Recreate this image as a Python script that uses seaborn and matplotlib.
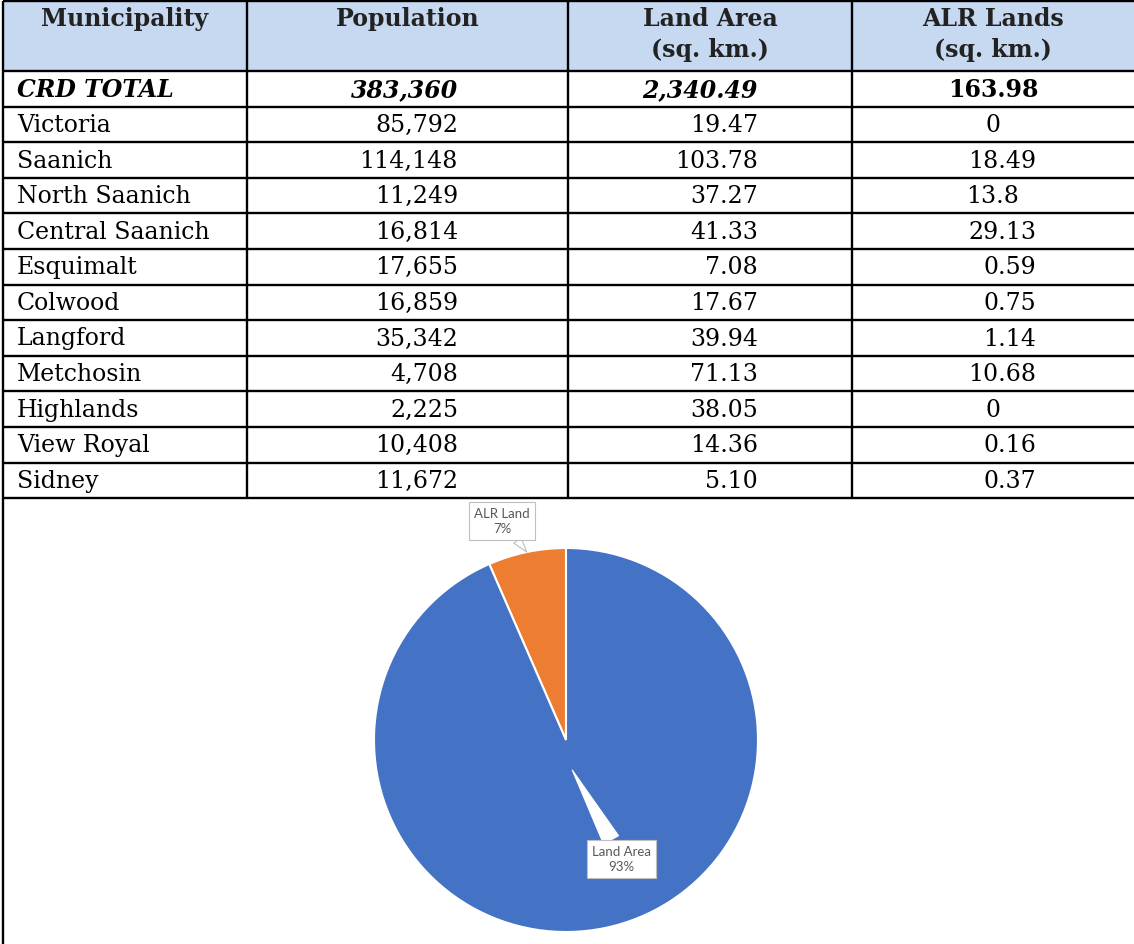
import numpy as np
import matplotlib
matplotlib.use("Agg")
import matplotlib.pyplot as plt
import seaborn as sns

sns.set_style("white")
plt.rcParams["font.family"] = ["DejaVu Serif"]
plt.rcParams["text.color"] = "black"

# table data
municipalities = ["Victoria", "Saanich", "North Saanich", "Central Saanich", "Esquimalt",
                  "Colwood", "Langford", "Metchosin", "Highlands", "View Royal", "Sidney"]
population = [85792, 114148, 11249, 16814, 17655, 16859, 35342, 4708, 2225, 10408, 11672]
land_area = [19.47, 103.78, 37.27, 41.33, 7.08, 17.67, 39.94, 71.13, 38.05, 14.36, 5.10]
alr_lands = [0, 18.49, 13.8, 29.13, 0.59, 0.75, 1.14, 10.68, 0, 0.16, 0.37]
total_label = "CRD TOTAL"
total_population = 383360
total_land = 2340.49
total_alr = 163.98
headers = ["Municipality", "Population", "Land Area\n(sq. km.)", "ALR Lands\n(sq. km.)"]

# pie data
pie_labels = ["ALR Land", "Land Area"]
pie_values = [total_alr, total_land]
pie_colors = ["#ED7D31", "#4472C4"]

W, H = 1134, 944
fig = plt.figure(figsize=(W / 100, H / 100), dpi=100)
ax = fig.add_axes([0, 0, 1, 1])
ax.set_xlim(0, W)
ax.set_ylim(H, 0)
ax.axis("off")

col_x = [3, 247, 568, 852, W + 5]
top, head_bot, row_h = 1, 71, 35.6
n_rows = len(municipalities) + 1
table_bot = head_bot + n_rows * row_h
fs = 17
lw = 1.7

ax.add_patch(plt.Rectangle((col_x[0], top), col_x[-1] - col_x[0], head_bot - top,
                           facecolor="#C6D9F1", edgecolor="none", zorder=0))
ys = [top, head_bot] + [head_bot + (i + 1) * row_h for i in range(n_rows)]
ax.hlines(ys, col_x[0], col_x[-1], color="black", lw=lw)
ax.vlines(col_x[1:4], top, table_bot, color="black", lw=lw)
ax.vlines(col_x[0], top, H + 5, color="black", lw=lw)

# header
for j, h in enumerate(headers):
    cx = (col_x[j] + col_x[j + 1]) / 2 if j < 3 else 993
    for k, line in enumerate(h.split("\n")):
        ax.text(cx, 19 + 31 * k, line, ha="center", va="center", fontsize=fs,
                fontweight="bold", color="#222222")

pop_right, land_right, alr_right, alr_center = 458, 758, 1036, 993


def alr_text(y, v, **kw):
    s = f"{v:g}"
    if "." in s and len(s.split(".")[1]) == 2:
        ax.text(alr_right, y, s, ha="right", va="center", fontsize=fs, **kw)
    else:
        ax.text(alr_center, y, s, ha="center", va="center", fontsize=fs, **kw)


y0 = head_bot + row_h / 2 + 1
ax.text(17, y0, total_label, ha="left", va="center", fontsize=fs, fontweight="bold", style="italic")
ax.text(pop_right, y0, f"{total_population:,}", ha="right", va="center", fontsize=fs,
        fontweight="bold", style="italic")
ax.text(land_right, y0, f"{total_land:,.2f}", ha="right", va="center", fontsize=fs,
        fontweight="bold", style="italic")
ax.text(alr_center, y0, f"{total_alr:.2f}", ha="center", va="center", fontsize=fs, fontweight="bold")

for i, name in enumerate(municipalities):
    y = head_bot + (i + 1) * row_h + row_h / 2 + 1
    ax.text(17, y, name, ha="left", va="center", fontsize=fs)
    ax.text(pop_right, y, f"{population[i]:,}", ha="right", va="center", fontsize=fs)
    ax.text(land_right, y, f"{land_area[i]:.2f}", ha="right", va="center", fontsize=fs)
    alr_text(y, alr_lands[i])

# pie
cx, cy, r = 566, 740, 192
pax = fig.add_axes([(cx - r) / W, (H - cy - r) / H, 2 * r / W, 2 * r / H])
wedges, _ = pax.pie(pie_values, colors=pie_colors, startangle=90, counterclock=True,
                    wedgeprops=dict(edgecolor="white", linewidth=1.5))
pax.set_xlim(-1, 1)
pax.set_ylim(-1, 1)
pax.set_aspect("equal")

pct = [round(100 * v / sum(pie_values)) for v in pie_values]
box_pos = [(-0.333, 1.14), (0.29, -0.62)]
tip_r = [1.0, 0.16]
tail_ec = ["#BFBFBF", "white"]
tail_w = [0.7, 1.3]
for i, w in enumerate(wedges):
    ang = np.deg2rad((w.theta1 + w.theta2) / 2)
    tip = (tip_r[i] * np.cos(ang), tip_r[i] * np.sin(ang))
    pax.annotate(f"{pie_labels[i]}\n{pct[i]}%", xy=tip, xytext=box_pos[i],
                 ha="center", va="center", fontsize=9.5, family=["Lato", "DejaVu Sans"],
                 color="#595959", linespacing=1.3, annotation_clip=False,
                 bbox=dict(boxstyle="square,pad=0.4", fc="white", ec="#BFBFBF", lw=0.8),
                 arrowprops=dict(arrowstyle=f"wedge,tail_width={tail_w[i]},shrink_factor=0.5",
                                 fc="white", ec=tail_ec[i], lw=0.8, shrinkA=0, shrinkB=0))

fig.savefig("out.png", dpi=100)
